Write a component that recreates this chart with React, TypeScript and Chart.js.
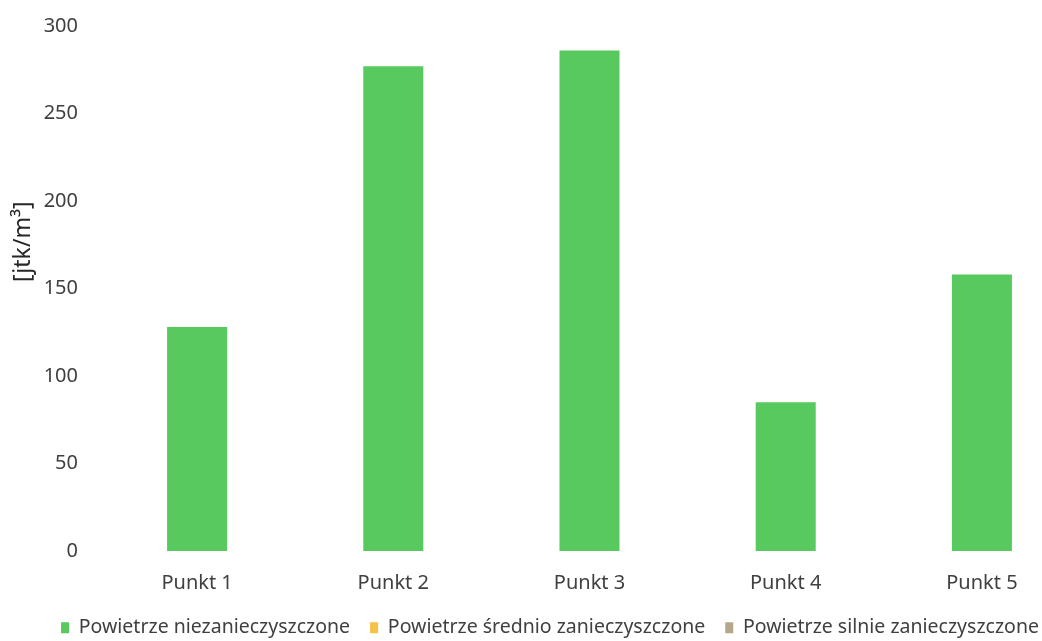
import React, { useEffect, useRef } from "react";
import { Chart, registerables } from "chart.js";

Chart.register(...registerables);

const categories = ["Punkt 1", "Punkt 2", "Punkt 3", "Punkt 4", "Punkt 5"];
const seriesNames = [
  "Powietrze niezanieczyszczone",
  "Powietrze średnio zanieczyszczone",
  "Powietrze silnie zanieczyszczone",
];
const clean = [128, 277, 286, 85, 158];
const medium = [0, 0, 0, 0, 0];
const heavy = [0, 0, 0, 0, 0];
const yTicks = [0, 50, 100, 150, 200, 250, 300];
const yTitle = "[jtk/m³]";

const FONT = "'Noto Sans', sans-serif";

const yTitlePlugin = {
  id: "yTitlePlugin",
  afterDraw(chart: any) {
    const { ctx, chartArea } = chart;
    ctx.save();
    ctx.translate(23, chartArea.top + chartArea.height * 0.411);
    ctx.rotate(-Math.PI / 2);
    ctx.fillStyle = "#262626";
    ctx.font = `23px ${FONT}`;
    ctx.textAlign = "center";
    ctx.textBaseline = "middle";
    ctx.fillText(yTitle, 0, 0);
    ctx.restore();
  },
};

const legendShiftPlugin = {
  id: "legendShiftPlugin",
  afterLayout(chart: any) {
    const lg = chart.legend;
    if (lg) {
      lg.left += 10;
      lg.right += 10;
      lg.top -= 3;
      lg.bottom -= 3;
    }
  },
};

export default function App() {
  const ref = useRef<HTMLCanvasElement | null>(null);
  useEffect(() => {
    if (!ref.current) return;
    const chart = new Chart(ref.current, {
      type: "bar",
      data: {
        labels: categories,
        datasets: [
          { label: seriesNames[0], data: clean, backgroundColor: "#58C95F" },
          { label: seriesNames[1], data: medium, backgroundColor: "#F5C243" },
          { label: seriesNames[2], data: heavy, backgroundColor: "#B3A78C" },
        ],
      },
      plugins: [yTitlePlugin, legendShiftPlugin],
      options: {
        animation: false,
        responsive: true,
        maintainAspectRatio: false,
        layout: { padding: { left: 0, right: 20, top: 26, bottom: 0 } },
        datasets: { bar: { categoryPercentage: 1, barPercentage: 0.306 } },
        plugins: {
          tooltip: { enabled: false },
          legend: {
            position: "bottom",
            maxHeight: 40,
            labels: {
              boxWidth: 8,
              boxHeight: 11,
              padding: 20,
              color: "#404040",
              font: { family: FONT, size: 19.5 },
            },
          },
        },
        scales: {
          x: {
            stacked: true,
            afterFit: (s: any) => {
              s.height = 50;
            },
            grid: { display: false, drawTicks: false },
            border: { display: false },
            ticks: { color: "#404040", font: { family: FONT, size: 20 }, padding: 20 },
          },
          y: {
            stacked: true,
            min: 0,
            max: 300,
            afterBuildTicks: (s: any) => {
              s.ticks = yTicks.map((v) => ({ value: v }));
            },
            afterFit: (s: any) => {
              s.width = 99;
              s.paddingTop = 0;
              s.paddingBottom = 0;
            },
            grid: { display: false, drawTicks: false },
            border: { display: false },
            ticks: { color: "#404040", font: { family: FONT, size: 20 }, padding: 21 },
          },
        },
      },
    });
    return () => chart.destroy();
  }, []);
  return (
    <div style={{ position: "fixed", left: 0, top: 0, width: 1042, height: 641, overflow: "hidden", background: "#fff" }}>
      <div style={{ position: "relative", width: 1100, height: 641 }}>
        <canvas ref={ref} />
      </div>
    </div>
  );
}
